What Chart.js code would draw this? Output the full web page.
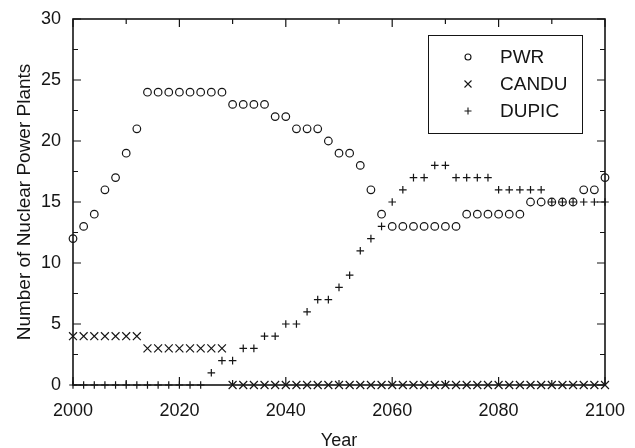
<!DOCTYPE html>
<html>
<head>
<meta charset="utf-8">
<title>Number of Nuclear Power Plants</title>
<script src="https://cdn.jsdelivr.net/npm/chart.js"></script>
<style>
  html, body { margin: 0; padding: 0; background: #fff; }
  #plants { display: block; }
</style>
</head>
<body>
<canvas id="plants" width="635" height="448"></canvas>
<script>
// Plant counts per reactor type, read every 2 years (2000-2100)
const years = [2000, 2002, 2004, 2006, 2008, 2010, 2012, 2014, 2016, 2018,
               2020, 2022, 2024, 2026, 2028, 2030, 2032, 2034, 2036, 2038,
               2040, 2042, 2044, 2046, 2048, 2050, 2052, 2054, 2056, 2058,
               2060, 2062, 2064, 2066, 2068, 2070, 2072, 2074, 2076, 2078,
               2080, 2082, 2084, 2086, 2088, 2090, 2092, 2094, 2096, 2098, 2100];

const pwr   = [12, 13, 14, 16, 17, 19, 21, 24, 24, 24,
               24, 24, 24, 24, 24, 23, 23, 23, 23, 22,
               22, 21, 21, 21, 20, 19, 19, 18, 16, 14,
               13, 13, 13, 13, 13, 13, 13, 14, 14, 14,
               14, 14, 14, 15, 15, 15, 15, 15, 16, 16, 17];

const candu = [4, 4, 4, 4, 4, 4, 4, 3, 3, 3,
               3, 3, 3, 3, 3, 0, 0, 0, 0, 0,
               0, 0, 0, 0, 0, 0, 0, 0, 0, 0,
               0, 0, 0, 0, 0, 0, 0, 0, 0, 0,
               0, 0, 0, 0, 0, 0, 0, 0, 0, 0, 0];

const dupic = [0, 0, 0, 0, 0, 0, 0, 0, 0, 0,
               0, 0, 0, 1, 2, 2, 3, 3, 4, 4,
               5, 5, 6, 7, 7, 8, 9, 11, 12, 13,
               15, 16, 17, 17, 18, 18, 17, 17, 17, 17,
               16, 16, 16, 16, 16, 15, 15, 15, 15, 15, 15];

const seriesNames = ['PWR', 'CANDU', 'DUPIC'];

const INK = '#151515';
const FONT = '"Liberation Sans", Arial, Helvetica, sans-serif';

function toPoints(values) {
    return values.map((v, i) => ({ x: years[i], y: v }));
}

function markerSet(label, values, style, radius) {
    return {
        label: label,
        data: toPoints(values),
        showLine: false,
        pointStyle: style,
        pointRadius: radius,
        pointHoverRadius: radius,
        pointBorderWidth: 1.2,
        borderColor: INK,
        backgroundColor: 'rgba(0,0,0,0)',
        clip: false
    };
}

// Framed plot box with inward major/minor ticks on all four sides
const frameTicks = {
    id: 'frameTicks',
    beforeDatasetsDraw(chart) {
        const { ctx, chartArea: a, scales } = chart;
        const xs = scales.x, ys = scales.y;
        ctx.save();
        ctx.strokeStyle = INK;
        ctx.lineWidth = 1.6;
        ctx.strokeRect(a.left, a.top, a.right - a.left, a.bottom - a.top);
        ctx.lineWidth = 1.2;
        ctx.beginPath();
        const xt = xs.ticks.map(t => t.value);
        xt.forEach((v, i) => {
            const px = xs.getPixelForValue(v);
            ctx.moveTo(px, a.bottom); ctx.lineTo(px, a.bottom - 8);
            ctx.moveTo(px, a.top); ctx.lineTo(px, a.top + 8);
            if (i < xt.length - 1) {
                const mx = xs.getPixelForValue((v + xt[i + 1]) / 2);
                ctx.moveTo(mx, a.bottom); ctx.lineTo(mx, a.bottom - 5);
                ctx.moveTo(mx, a.top); ctx.lineTo(mx, a.top + 5);
            }
        });
        const yt = ys.ticks.map(t => t.value);
        yt.forEach((v, i) => {
            const py = ys.getPixelForValue(v);
            ctx.moveTo(a.left, py); ctx.lineTo(a.left + 8, py);
            ctx.moveTo(a.right, py); ctx.lineTo(a.right - 8, py);
            if (i < yt.length - 1) {
                const my = ys.getPixelForValue((v + yt[i + 1]) / 2);
                ctx.moveTo(a.left, my); ctx.lineTo(a.left + 5, my);
                ctx.moveTo(a.right, my); ctx.lineTo(a.right - 5, my);
            }
        });
        ctx.stroke();
        ctx.restore();
    }
};

// Boxed legend in the upper right corner
const boxLegend = {
    id: 'boxLegend',
    afterDraw(chart) {
        const ctx = chart.ctx;
        ctx.save();
        ctx.strokeStyle = INK;
        ctx.lineWidth = 1;
        ctx.strokeRect(428.5, 35.5, 154, 98);
        ctx.fillStyle = INK;
        ctx.font = '19px ' + FONT;
        ctx.textBaseline = 'middle';
        ctx.textAlign = 'left';
        chart.data.datasets.forEach((ds, i) => {
            const y = 57 + i * 27;
            const x = 468;
            ctx.lineWidth = 1.1;
            ctx.beginPath();
            if (ds.pointStyle === 'circle') {
                ctx.arc(x, y, 3, 0, Math.PI * 2);
            } else if (ds.pointStyle === 'crossRot') {
                ctx.moveTo(x - 3.5, y - 3.5); ctx.lineTo(x + 3.5, y + 3.5);
                ctx.moveTo(x - 3.5, y + 3.5); ctx.lineTo(x + 3.5, y - 3.5);
            } else {
                ctx.moveTo(x - 3.5, y); ctx.lineTo(x + 3.5, y);
                ctx.moveTo(x, y - 3.5); ctx.lineTo(x, y + 3.5);
            }
            ctx.stroke();
            ctx.fillText(ds.label, 500, y + 1);
        });
        ctx.restore();
    }
};

new Chart(document.getElementById('plants'), {
    type: 'scatter',
    data: {
        datasets: [
            markerSet(seriesNames[0], pwr, 'circle', 3.8),
            markerSet(seriesNames[1], candu, 'crossRot', 5.6),
            markerSet(seriesNames[2], dupic, 'cross', 3.8)
        ]
    },
    options: {
        responsive: false,
        animation: false,
        events: [],
        layout: { padding: { top: 19, right: 30, left: 0, bottom: 0 } },
        plugins: {
            legend: { display: false },
            tooltip: { enabled: false }
        },
        scales: {
            x: {
                type: 'linear',
                min: 2000,
                max: 2100,
                grid: { display: false, drawTicks: false },
                border: { display: false },
                ticks: {
                    stepSize: 20,
                    padding: 15,
                    color: INK,
                    font: { family: FONT, size: 18 },
                    maxRotation: 0,
                    callback: (v) => String(v)
                },
                title: {
                    display: true,
                    text: 'Year',
                    color: INK,
                    font: { family: FONT, size: 18 },
                    padding: { top: 0, bottom: -4 }
                },
                afterFit: (scale) => {
                    scale.height = 63;
                    scale.paddingLeft = 0;
                    scale.paddingRight = 0;
                }
            },
            y: {
                min: 0,
                max: 30,
                grid: { display: false, drawTicks: false },
                border: { display: false },
                ticks: {
                    stepSize: 5,
                    padding: 12,
                    color: INK,
                    font: { family: FONT, size: 18 }
                },
                title: {
                    display: true,
                    text: 'Number of Nuclear Power Plants',
                    color: INK,
                    font: { family: FONT, size: 19 },
                    padding: { top: 13, bottom: 0 }
                },
                afterFit: (scale) => {
                    scale.width = 73;
                    scale.paddingTop = 0;
                    scale.paddingBottom = 0;
                }
            }
        }
    },
    plugins: [frameTicks, boxLegend]
});
</script>
</body>
</html>
